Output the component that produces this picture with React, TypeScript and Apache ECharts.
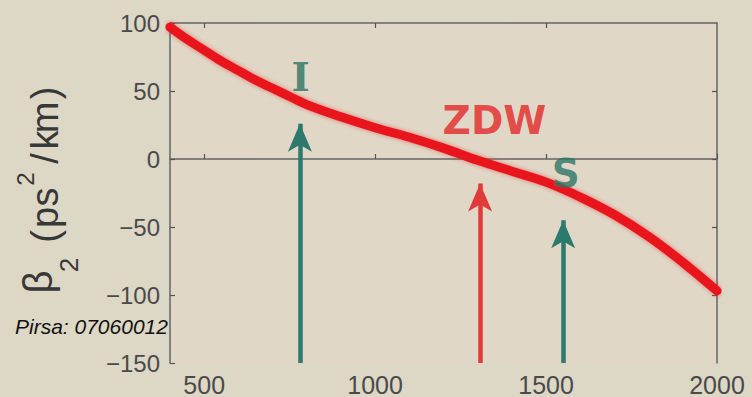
import React, { useEffect, useRef } from "react";
import * as echarts from "echarts";

// Curve: dispersion beta2 (ps^2/km) vs wavelength (nm)
const wavelengths = [400, 450, 500, 550, 600, 650, 700, 750, 800, 900, 1000, 1100, 1200, 1300, 1400, 1500, 1600, 1700, 1800, 1900, 2000];
const beta2 = [97, 88, 80, 72, 65, 58, 52, 46, 40, 31, 23, 16, 8, -1, -9, -17, -28, -41, -57, -76, -97];

// Arrows (I, ZDW, S)
const arrowNames = ["I", "ZDW", "S"];
const arrowX = [780, 1307, 1550];
const arrowTip = [26, -18, -45];
const arrowColors = ["#2b7a6c", "#e23a3a", "#2b7a6c"];

// Marker labels
const labelX = [782, 1349, 1558];
const labelY = [60.5, 28.3, -10.7];
const labelColors = ["#2a7262", "#e32626", "#2a7565"];
const labelFonts = ["DejaVu Serif", "DejaVu Sans", "DejaVu Sans"];

// Axes
const xMin = 400;
const xMax = 2000;
const yMin = -150;
const yMax = 100;
const xTickValues = [500, 1000, 1500, 2000];
const xTopTickValues = [500, 1000, 1500];
const yTickValues = [-150, -100, -50, 0, 50, 100];
const yRightTickValues = [-100, -50, 0, 50];

export default function App() {
  const ref = useRef<HTMLDivElement>(null);

  useEffect(() => {
    if (!ref.current) return;
    const chart = echarts.init(ref.current, null, { renderer: "svg" });

    const axisLineStyle = { color: "#666", width: 1.5 };
    const tickStyle = { color: "#555", width: 1.2 };
    const fmtY = (v: number) => (v < 0 ? "\u2212" + Math.abs(v) : String(v));
    const fmtX = (v: number) => String(v);

    const arrowSeries = arrowNames.map((name, i) => ({
      type: "line",
      name: "arrow-" + name,
      data: [],
      silent: true,
      markLine: {
        silent: true,
        animation: false,
        symbol: ["none", "arrow"],
        symbolSize: [18, 28],
        label: { show: false },
        emphasis: { disabled: true },
        lineStyle: { color: arrowColors[i], width: 4.5, type: "solid" },
        data: [[{ coord: [arrowX[i], yMin] }, { coord: [arrowX[i], arrowTip[i]] }]],
      },
    }));

    const labelSeries = {
      type: "scatter",
      silent: true,
      symbolSize: 0,
      z: 5,
      data: arrowNames.map((name, i) => ({
        value: [labelX[i], labelY[i]],
        name,
        label: {
          show: true,
          position: "inside",
          formatter: name,
          color: labelColors[i],
          fontFamily: labelFonts[i],
          fontWeight: "bold",
          fontSize: 39,
        },
      })),
    };

    const yLabelBase = 58;
    const yLabelStart = 296;
    const mainFont = "Liberation Sans";
    const pieces: Array<[string, number, number, number]> = [
      ["\u03b2", 14, -20, 40],
      ["2", 31, 11, 26],
      ["(", 59.5, -13, 38],
      ["p", 78.5, -13, 38],
      ["s", 99, -13, 38],
      ["2", 117, -33, 24],
      ["/", 137.5, -13, 38],
      ["k", 156, -13, 38],
      ["m", 178.5, -13, 38],
      [")", 203, -13, 38],
    ];

    chart.setOption({
      animation: false,
      backgroundColor: "#ddd7c5",
      grid: {
        left: 170,
        top: 23,
        right: 35,
        bottom: 34,
        show: true,
        backgroundColor: "#e0d7c6",
        borderWidth: 0,
        containLabel: false,
        outerBoundsMode: "none",
      },
      xAxis: [
        {
          type: "value",
          min: xMin,
          max: xMax,
          position: "bottom",
          axisLine: { show: true, lineStyle: axisLineStyle },
          axisTick: { show: true, inside: true, length: 5, lineStyle: tickStyle, customValues: xTickValues },
          axisLabel: {
            show: true,
            customValues: xTickValues,
            formatter: fmtX,
            margin: 9,
            fontSize: 25,
            fontFamily: "Liberation Sans",
            color: "#4a4a4a",
          },
          splitLine: { show: false },
        },
        {
          type: "value",
          min: xMin,
          max: xMax,
          position: "top",
          axisLine: { show: true, onZero: false, lineStyle: axisLineStyle },
          axisTick: { show: true, inside: true, length: 5, lineStyle: tickStyle, customValues: xTopTickValues },
          axisLabel: { show: false },
          splitLine: { show: false },
        },
      ],
      yAxis: [
        {
          type: "value",
          min: yMin,
          max: yMax,
          interval: 50,
          position: "left",
          axisLine: { show: true, onZero: false, lineStyle: axisLineStyle },
          axisTick: { show: true, inside: true, length: 5, lineStyle: tickStyle, customValues: yTickValues },
          axisLabel: {
            show: true,
            customValues: yTickValues,
            formatter: fmtY,
            margin: 10,
            fontSize: 24,
            fontFamily: "Liberation Sans",
            color: "#4a4a4a",
          },
          splitLine: { show: false },
        },
        {
          type: "value",
          min: yMin,
          max: yMax,
          interval: 50,
          position: "right",
          axisLine: { show: true, onZero: false, lineStyle: axisLineStyle },
          axisTick: { show: true, inside: true, length: 5, lineStyle: tickStyle, customValues: yRightTickValues },
          axisLabel: { show: false },
          splitLine: { show: false },
        },
      ],
      series: [
        ...arrowSeries,
        {
          type: "line",
          name: "beta2",
          data: wavelengths.map((w, i) => [w, beta2[i]]),
          smooth: 0.4,
          symbol: "none",
          silent: true,
          z: 4,
          lineStyle: {
            color: "#e8141b",
            width: 9,
            cap: "round",
            shadowBlur: 4,
            shadowColor: "rgba(235,40,40,0.6)",
          },
        },
        labelSeries,
      ],
      graphic: [
        {
          type: "group",
          x: yLabelBase,
          y: yLabelStart,
          rotation: Math.PI / 2,
          silent: true,
          children: pieces.map(([t, lx, ly, fs]) => ({
            type: "text",
            x: lx,
            y: ly,
            style: {
              text: t,
              fontSize: fs,
              fontFamily: mainFont,
              fill: "#383838",
              align: "center",
              verticalAlign: "middle",
              textAlign: "center",
              textVerticalAlign: "middle",
            },
          })),
        },
        {
          type: "text",
          left: 15,
          top: 316,
          silent: true,
          z: 10,
          style: {
            text: "Pirsa: 07060012",
            fontSize: 21,
            fontStyle: "italic",
            fontFamily: "Liberation Sans",
            fill: "#111",
          },
        },
      ],
    });

    return () => chart.dispose();
  }, []);

  return (
    <div
      ref={ref}
      style={{ position: "fixed", left: 0, top: 0, width: 752, height: 397 }}
    />
  );
}
